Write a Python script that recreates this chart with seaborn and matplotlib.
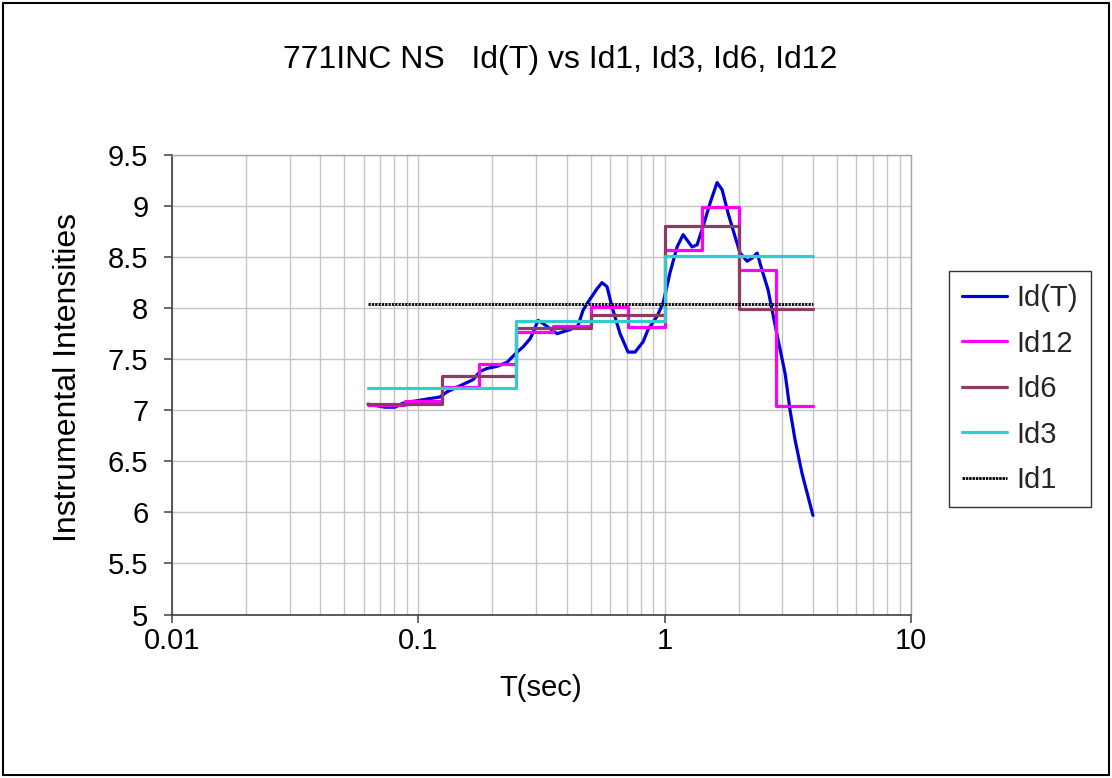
import numpy as np
import pandas as pd
import matplotlib
matplotlib.use("Agg")
import matplotlib.pyplot as plt
import seaborn as sns
from matplotlib.ticker import FixedLocator, FixedFormatter, LogLocator, NullFormatter
from matplotlib.patches import Rectangle

# ---------------- data ----------------
T_idT = [0.0625, 0.0732, 0.0804, 0.0867, 0.1085, 0.1224, 0.1307, 0.1477, 0.1668,
         0.1780, 0.1901, 0.2087, 0.2292, 0.2517, 0.2661, 0.2841, 0.2922, 0.3062,
         0.3208, 0.3657, 0.4129, 0.4451, 0.4664, 0.4887, 0.5315, 0.5568, 0.5835,
         0.6115, 0.6592, 0.7100, 0.7584, 0.8171, 0.8561, 0.9313, 0.985, 1.052,
         1.123, 1.188, 1.292, 1.354, 1.432, 1.529, 1.632, 1.711, 1.809, 1.931,
         2.024, 2.161, 2.264, 2.373, 2.486, 2.629, 2.730, 2.887, 3.083, 3.229,
         3.383, 3.613, 4.0]
Id_T = [7.06, 7.03, 7.03, 7.07, 7.11, 7.13, 7.18, 7.24, 7.30,
        7.38, 7.41, 7.43, 7.47, 7.57, 7.62, 7.70, 7.76, 7.88,
        7.85, 7.75, 7.79, 7.83, 7.98, 8.06, 8.19, 8.25, 8.21,
        8.01, 7.75, 7.57, 7.57, 7.67, 7.79, 7.92, 8.05, 8.35,
        8.60, 8.72, 8.60, 8.62, 8.80, 9.03, 9.23, 9.16, 8.93, 8.70,
        8.54, 8.46, 8.49, 8.54, 8.37, 8.18, 7.98, 7.69, 7.36, 7.00,
        6.71, 6.38, 5.97]

id12_edges = [0.0625, 0.0884, 0.125, 0.1768, 0.25, 0.3536, 0.5, 0.7071,
              1.0, 1.4142, 2.0, 2.8284, 4.0]
id12_vals = [7.05, 7.09, 7.23, 7.45, 7.77, 7.83, 8.01, 7.82, 8.57, 8.99, 8.37, 7.04]

id6_edges = [0.0625, 0.125, 0.25, 0.5, 1.0, 2.0, 4.0]
id6_vals = [7.06, 7.34, 7.81, 7.93, 8.80, 7.99]

id3_edges = [0.0625, 0.25, 1.0, 4.0]
id3_vals = [7.22, 7.87, 8.51]

id1_edges = [0.0625, 4.0]
id1_vals = [8.04]

y_ticks = [5, 5.5, 6, 6.5, 7, 7.5, 8, 8.5, 9, 9.5]
y_ticklabels = ["5", "5.5", "6", "6.5", "7", "7.5", "8", "8.5", "9", "9.5"]
x_ticks = [0.01, 0.1, 1, 10]
x_ticklabels = ["0.01", "0.1", "1", "10"]

title = "771INC NS   Id(T) vs Id1, Id3, Id6, Id12"
xlabel = "T(sec)"
ylabel = "Instrumental Intensities"

# ---------------- style ----------------
sns.set_theme(style="white")
plt.rcParams["font.family"] = ["Liberation Sans", "DejaVu Sans"]
plt.rcParams["lines.scale_dashes"] = False

W, H = 1112, 778
fig = plt.figure(figsize=(W / 100, H / 100), dpi=100)
fig.patch.set_facecolor("white")
ax_l, ax_r, ax_t, ax_b = 172, 911, 155, 614.5
ax = fig.add_axes([ax_l / W, 1 - ax_b / H, (ax_r - ax_l) / W, (ax_b - ax_t) / H])


def step_df(edges, vals):
    return pd.DataFrame({"T": edges, "v": list(vals) + [vals[-1]]})


c_blue = "#0000DD"
c_mag = "#FF00FF"
c_plum = "#8E3B64"
c_cyan = "#33CCCC"
LW = 2.3

sns.lineplot(data=pd.DataFrame({"T": T_idT, "v": Id_T}), x="T", y="v", ax=ax,
             color=c_blue, lw=LW, sort=False, label="Id(T)", estimator=None)
sns.lineplot(data=step_df(id12_edges, id12_vals), x="T", y="v", ax=ax,
             color=c_mag, lw=LW, drawstyle="steps-post", sort=False,
             label="Id12", estimator=None)
sns.lineplot(data=step_df(id6_edges, id6_vals), x="T", y="v", ax=ax,
             color=c_plum, lw=LW, drawstyle="steps-post", sort=False,
             label="Id6", estimator=None)
sns.lineplot(data=step_df(id3_edges, id3_vals), x="T", y="v", ax=ax,
             color=c_cyan, lw=LW, drawstyle="steps-post", sort=False,
             label="Id3", estimator=None)
sns.lineplot(data=step_df(id1_edges, id1_vals), x="T", y="v", ax=ax,
             color="black", lw=2.0, dashes=False, sort=False,
             label="Id1", estimator=None)
l1 = ax.get_lines()[-1]
l1.set_linestyle((0, (1.8, 0.6)))
# white centres to make the ring pattern
ax.plot(id1_edges, [id1_vals[0]] * 2, color="white", lw=0.7,
        linestyle=(0.9, (0.6, 1.8)), zorder=l1.get_zorder() + 0.1)

ax.set_xscale("log")
ax.set_xlim(0.01, 10)
ax.set_ylim(5, 9.5)
ax.xaxis.set_major_locator(FixedLocator(x_ticks))
ax.xaxis.set_major_formatter(FixedFormatter(x_ticklabels))
ax.xaxis.set_minor_locator(LogLocator(base=10, subs=np.arange(2, 10), numticks=20))
ax.xaxis.set_minor_formatter(NullFormatter())
ax.yaxis.set_major_locator(FixedLocator(y_ticks))
ax.yaxis.set_major_formatter(FixedFormatter(y_ticklabels))

ax.grid(True, which="major", axis="both", color="#C4C4C4", lw=1.0)
ax.grid(True, which="minor", axis="x", color="#C4C4C4", lw=1.0)
ax.set_axisbelow(True)

for s in ["left", "bottom"]:
    ax.spines[s].set_color("#404040")
    ax.spines[s].set_linewidth(1.2)
for s in ["top", "right"]:
    ax.spines[s].set_color("#A8A8A8")
    ax.spines[s].set_linewidth(1.0)

FS = 21
ax.tick_params(axis="both", which="major", direction="out", length=6, width=1.1,
               color="#404040", labelsize=FS, labelcolor="black",
               left=True, bottom=True)
ax.tick_params(axis="y", which="major", pad=11)
ax.tick_params(axis="x", which="major", pad=3)
ax.tick_params(axis="x", which="minor", length=0)

ax.set_xlabel(xlabel, fontsize=FS, color="black", va="center")
ax.set_ylabel(ylabel, fontsize=23, color="black", va="center")
ax.xaxis.set_label_coords((541 - ax_l) / (ax_r - ax_l), -(688 - ax_b) / (ax_b - ax_t))
ax.yaxis.set_label_coords(-(ax_l - 68) / (ax_r - ax_l), 0.515)

fig.text(560 / W, 1 - 60 / H, title, fontsize=23, ha="center", va="center",
         color="black")

leg = ax.legend(loc="upper left", bbox_to_anchor=(949 / W, 1 - 271 / H),
                bbox_transform=fig.transFigure, borderaxespad=0, fontsize=FS,
                frameon=True, fancybox=False, handlelength=1.55,
                handletextpad=0.3, labelspacing=0.6, borderpad=0.45)
leg.get_frame().set_edgecolor("black")
leg.get_frame().set_linewidth(1.0)
hl = leg.get_lines()[-1]
hl.set_linestyle((0, (1.8, 0.6)))

fig.add_artist(Rectangle((3 / W, 3 / H), 1 - 6 / W, 1 - 6 / H,
                         transform=fig.transFigure, fill=False,
                         edgecolor="black", lw=1.5))

fig.savefig("out.png", dpi=100, facecolor="white")
